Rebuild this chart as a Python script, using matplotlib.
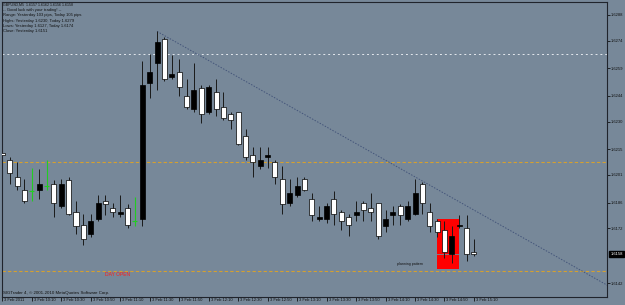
import matplotlib
matplotlib.use("Agg")
import matplotlib.pyplot as plt
import matplotlib.transforms as mtransforms
from matplotlib.patches import Rectangle

# GBPUSD M5 bars, 3 Feb 2011 (bar 0 = 09:50)
opens = [1.6213, 1.6209, 1.6200, 1.6193, 1.6192, 1.6193, 1.6195, 1.6196, 1.6184, 1.6198,
         1.6181, 1.6174, 1.6169, 1.6177, 1.6187, 1.6183, 1.6180, 1.6183, 1.6176, 1.6177,
         1.6251, 1.6262, 1.6275, 1.6254, 1.6257, 1.6244, 1.6237, 1.6248, 1.6235, 1.6246,
         1.6238, 1.6234, 1.6235, 1.6222, 1.6212, 1.6206, 1.6211, 1.6208, 1.6199, 1.6186,
         1.6190, 1.6199, 1.6188, 1.6177, 1.6177, 1.6188, 1.6181, 1.6178, 1.6179, 1.6186,
         1.6183, 1.6186, 1.6173, 1.6179, 1.6184, 1.6177, 1.6180, 1.6196, 1.6181, 1.6176,
         1.6171, 1.6158, 1.6173, 1.6172, 1.6159]
highs = [1.6214, 1.6211, 1.6208, 1.6199, 1.6205, 1.6204, 1.6209, 1.6198, 1.6199, 1.6200,
         1.6187, 1.6180, 1.6180, 1.6190, 1.6190, 1.6186, 1.6190, 1.6185, 1.6189, 1.6263,
         1.6267, 1.6279, 1.6276, 1.6266, 1.6264, 1.6253, 1.6262, 1.6250, 1.6250, 1.6253,
         1.6246, 1.6235, 1.6235, 1.6226, 1.6216, 1.6216, 1.6216, 1.6209, 1.6206, 1.6199,
         1.6200, 1.6200, 1.6191, 1.6184, 1.6186, 1.6192, 1.6182, 1.6180, 1.6187, 1.6187,
         1.6191, 1.6186, 1.6182, 1.6184, 1.6185, 1.6187, 1.6199, 1.6197, 1.6186, 1.6177,
         1.6176, 1.6173, 1.6179, 1.6179, 1.6166]
lows = [1.6211, 1.6196, 1.6193, 1.6186, 1.6187, 1.6188, 1.6193, 1.6178, 1.6183, 1.6179,
        1.6169, 1.6163, 1.6167, 1.6176, 1.6179, 1.6178, 1.6178, 1.6172, 1.6173, 1.6173,
        1.6243, 1.6247, 1.6252, 1.6253, 1.6244, 1.6237, 1.6235, 1.6229, 1.6234, 1.6233,
        1.6231, 1.6226, 1.6217, 1.6209, 1.6200, 1.6204, 1.6205, 1.6196, 1.6180, 1.6184,
        1.6189, 1.6192, 1.6176, 1.6176, 1.6175, 1.6174, 1.6171, 1.6168, 1.6176, 1.6176,
        1.6176, 1.6166, 1.6170, 1.6174, 1.6174, 1.6176, 1.6179, 1.6180, 1.6170, 1.6167,
        1.6156, 1.6153, 1.6172, 1.6154, 1.6157]
closes = [1.6212, 1.6202, 1.6195, 1.6187, 1.6192, 1.6196, 1.6195, 1.6186, 1.6196, 1.6180,
          1.6173, 1.6166, 1.6176, 1.6186, 1.6185, 1.6181, 1.6181, 1.6174, 1.6176, 1.6250,
          1.6257, 1.6273, 1.6253, 1.6256, 1.6249, 1.6238, 1.6247, 1.6234, 1.6249, 1.6237,
          1.6232, 1.6231, 1.6218, 1.6211, 1.6208, 1.6209, 1.6212, 1.6200, 1.6185, 1.6191,
          1.6195, 1.6193, 1.6179, 1.6178, 1.6184, 1.6180, 1.6176, 1.6174, 1.6181, 1.6182,
          1.6181, 1.6168, 1.6177, 1.6181, 1.6179, 1.6184, 1.6191, 1.6186, 1.6173, 1.6170,
          1.6159, 1.6168, 1.6174, 1.6158, 1.6158]

time_ticks = list(range(0, 65, 4))
time_labels = ['3 Feb 2011', '3 Feb 10:10', '3 Feb 10:30', '3 Feb 10:50', '3 Feb 11:10',
               '3 Feb 11:30', '3 Feb 11:50', '3 Feb 12:10', '3 Feb 12:30', '3 Feb 12:50',
               '3 Feb 13:10', '3 Feb 13:30', '3 Feb 13:50', '3 Feb 14:10', '3 Feb 14:30',
               '3 Feb 14:50', '3 Feb 15:10']
price_ticks = [1.6288, 1.6274, 1.6259, 1.6244, 1.6230, 1.6215, 1.6201, 1.6186, 1.6172, 1.6142]

bid = 1.6158
day_open = 1.6149
level_orange = 1.6208
level_white = 1.6267
trend_x = [21, 82.1]
trend_y = [1.6279, 1.6141]
box_x = [59, 62]
box_y = [1.6150, 1.6177]

info_lines = ['GBPUSD,M5  1.6157 1.6162 1.6156 1.6158',
              '-- Good luck with your trading! --',
              'Range: Yesterday 103 pips, Today 105 pips',
              'Highs: Yesterday 1.6230, Today 1.6279',
              'Lows: Yesterday 1.6127, Today 1.6174',
              'Close: Yesterday 1.6151']

BG = '#778899'
W, H = 625, 305
plt.rcParams['font.family'] = ['Liberation Sans', 'DejaVu Sans']

fig = plt.figure(figsize=(W / 100, H / 100), dpi=100, facecolor=BG)
ax = fig.add_axes([2 / W, (H - 296.7) / H, 605 / W, 294.7 / H], facecolor=BG)
ax.set_xlim(-0.04, 82.05)
ax.set_ylim(1.61348, 1.62950)

# horizontal levels
ax.axhline(level_white, color='#e4e8ee', lw=0.7, ls=(0, (2, 3)), zorder=1)
ax.axhline(level_orange, color='#D4A030', lw=0.8, ls=(0, (3, 2)), zorder=1)
ax.axhline(day_open, color='#D4A030', lw=0.8, ls=(0, (3, 2)), zorder=1)

# red rectangle + bid line
ax.add_patch(Rectangle((box_x[0], box_y[0]), box_x[1] - box_x[0], box_y[1] - box_y[0],
                       facecolor='#ff0000', edgecolor='none', zorder=1.5))
ax.axhline(bid, color=BG, lw=0.6, zorder=1.6)

# trend line
ax.plot(trend_x, trend_y, color='#44557a', lw=0.7, ls=(0, (1.5, 1.5)), zorder=1.7)

# candles
bw = 0.68
for i, (o, h, l, c) in enumerate(zip(opens, highs, lows, closes)):
    if o == c:
        ax.vlines(i, l, h, color='#22cc22', lw=0.8, zorder=2)
        ax.hlines(o, i - bw / 2, i + bw / 2, color='#22cc22', lw=0.8, zorder=2)
        continue
    ax.vlines(i, l, h, color='#1a1a1a', lw=0.7, zorder=2)
    fc = 'black' if c > o else 'white'
    ax.bar(i, abs(c - o), bottom=min(o, c), width=bw, color=fc,
           edgecolor='black', linewidth=0.5, zorder=3)

# axes styling
for s in ax.spines.values():
    s.set_color('#20242c')
    s.set_linewidth(0.8)
ax.yaxis.tick_right()
ax.set_yticks(price_ticks)
ax.set_yticklabels(['%.4f' % p for p in price_ticks])
ax.tick_params(axis='y', direction='out', length=2.2, width=0.6, pad=0.8,
               labelsize=3.0, colors='#111111')
ax.set_xticks(time_ticks)
ax.set_xticklabels(time_labels, ha='left')
ax.tick_params(axis='x', direction='out', length=3, width=0.6, pad=-2.0,
               labelsize=3.0, colors='#111111')
offset = mtransforms.ScaledTranslation(2 / 100, 0, fig.dpi_scale_trans)
for lab in ax.get_xticklabels():
    lab.set_transform(lab.get_transform() + offset)

# current price box
ax.annotate('%.4f' % bid, xy=(1.0, bid), xycoords=('axes fraction', 'data'),
            xytext=(2.5, 0), textcoords='offset points', ha='left', va='center',
            fontsize=3.0, color='white',
            bbox=dict(boxstyle='square,pad=0.25', fc='black', ec='black'),
            annotation_clip=False)

# texts
for k, line in enumerate(info_lines):
    fs = 2.6 if k == 0 else 3.0
    fig.text(3 / W, 1 - (4.8 + 5.3 * k) / H, line, fontsize=fs, color='#111111',
             ha='left', va='center')
ax.text(14, 1.6147, 'DAY OPEN', fontsize=3.6, color='#ff1a1a', ha='left', va='center')
ax.text(53.6, 1.61526, 'planning pattern', fontsize=2.6, color='#111111',
        ha='left', va='center')
fig.text(3 / W, 1 - 292.7 / H, 'SIGTrader 4, \u00a9 2001-2010 MetaQuotes Software Corp.',
         fontsize=3.2, color='#111111', ha='left', va='center')

fig.savefig('out.png', dpi=100, facecolor=BG)
